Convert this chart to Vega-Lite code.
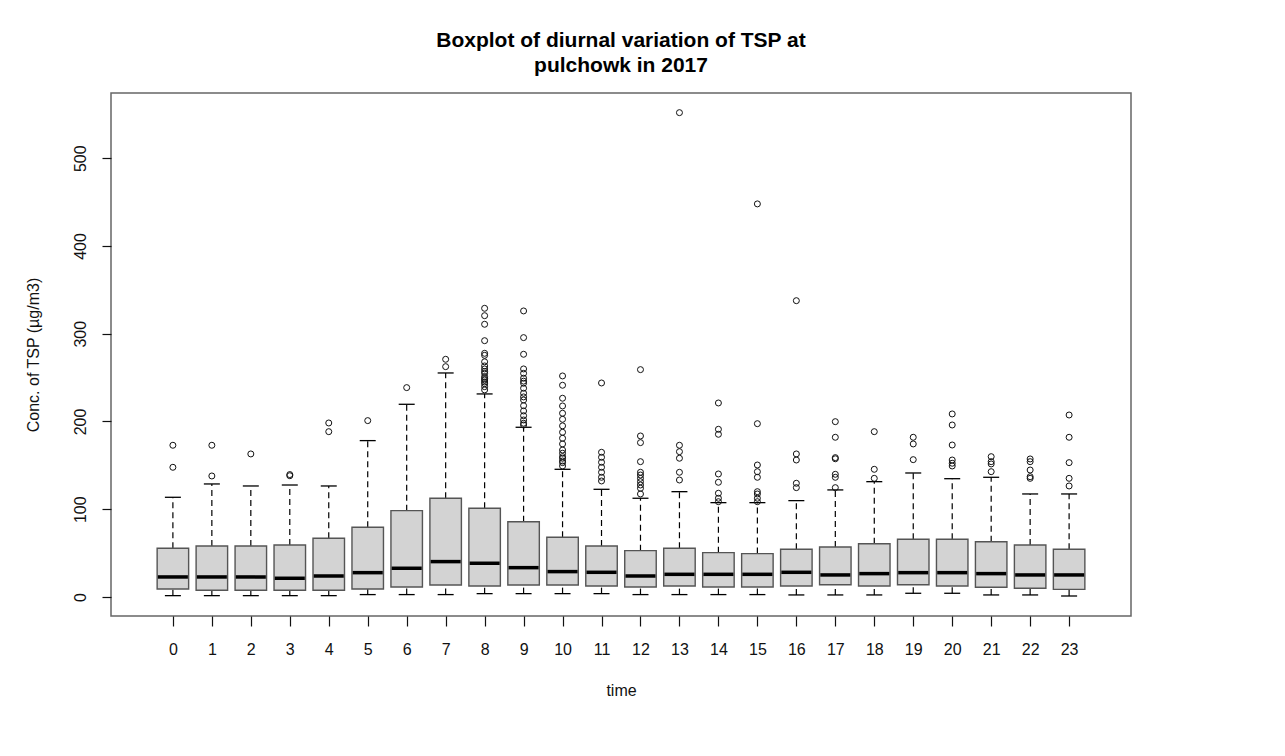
{
  "$schema": "https://vega.github.io/schema/vega-lite/v6.json",
  "autosize": "none",
  "width": 1020,
  "height": 523,
  "padding": {"left": 111, "top": 93, "right": 154, "bottom": 140},
  "background": "white",
  "config": {
    "font": "Liberation Sans",
    "view": {"stroke": "#666666", "strokeWidth": 1.5},
    "axis": {"grid": false, "domain": false, "tickColor": "#111111", "labelColor": "#111111", "titleColor": "#111111", "labelFont": "Liberation Sans", "titleFont": "Liberation Sans", "labelFontSize": 16, "titleFontSize": 16, "titleFontWeight": "normal"}
  },
  "title": {
    "text": ["Boxplot of diurnal variation of TSP at", "pulchowk in 2017"],
    "font": "Liberation Sans",
    "fontSize": 21,
    "fontWeight": "bold",
    "color": "#000000",
    "anchor": "middle",
    "frame": "group",
    "baseline": "alphabetic",
    "lineHeight": 25,
    "offset": 0
  },
  "datasets": {
    "boxes": [
      {"hour": 0, "lo": 1.5, "q1": 9.1, "med": 22.8, "q3": 55.5, "hi": 113.6},
      {"hour": 1, "lo": 1.5, "q1": 7.6, "med": 22.8, "q3": 58.1, "hi": 128.8},
      {"hour": 2, "lo": 1.5, "q1": 7.6, "med": 22.8, "q3": 58.1, "hi": 126.5},
      {"hour": 3, "lo": 1.5, "q1": 7.6, "med": 21.3, "q3": 59.3, "hi": 127.6},
      {"hour": 4, "lo": 1.5, "q1": 7.6, "med": 23.9, "q3": 66.9, "hi": 126.5},
      {"hour": 5, "lo": 2.7, "q1": 9.1, "med": 27.7, "q3": 79.4, "hi": 178.2},
      {"hour": 6, "lo": 2.7, "q1": 11.4, "med": 32.7, "q3": 98.4, "hi": 219.6},
      {"hour": 7, "lo": 2.7, "q1": 13.7, "med": 40.3, "q3": 112.5, "hi": 255.3},
      {"hour": 8, "lo": 3.8, "q1": 12.5, "med": 38.4, "q3": 101.1, "hi": 231.4},
      {"hour": 9, "lo": 3.8, "q1": 13.7, "med": 33.4, "q3": 85.8, "hi": 193.4},
      {"hour": 10, "lo": 3.8, "q1": 13.7, "med": 28.9, "q3": 68.0, "hi": 145.5},
      {"hour": 11, "lo": 3.8, "q1": 12.5, "med": 28.1, "q3": 58.1, "hi": 122.7},
      {"hour": 12, "lo": 2.7, "q1": 11.4, "med": 23.9, "q3": 52.8, "hi": 112.5},
      {"hour": 13, "lo": 2.7, "q1": 12.5, "med": 25.8, "q3": 55.5, "hi": 120.0},
      {"hour": 14, "lo": 2.7, "q1": 11.4, "med": 25.8, "q3": 50.5, "hi": 107.5},
      {"hour": 15, "lo": 2.7, "q1": 11.4, "med": 25.8, "q3": 49.4, "hi": 107.5},
      {"hour": 16, "lo": 2.3, "q1": 12.5, "med": 28.1, "q3": 54.3, "hi": 109.8},
      {"hour": 17, "lo": 2.3, "q1": 14.0, "med": 25.1, "q3": 57.0, "hi": 122.0},
      {"hour": 18, "lo": 2.3, "q1": 12.5, "med": 26.6, "q3": 60.7, "hi": 131.4},
      {"hour": 19, "lo": 4.2, "q1": 14.0, "med": 27.7, "q3": 65.8, "hi": 141.3},
      {"hour": 20, "lo": 4.2, "q1": 12.5, "med": 27.7, "q3": 65.8, "hi": 134.8},
      {"hour": 21, "lo": 2.3, "q1": 11.0, "med": 26.6, "q3": 63.0, "hi": 136.4},
      {"hour": 22, "lo": 2.3, "q1": 9.9, "med": 25.1, "q3": 59.3, "hi": 117.4},
      {"hour": 23, "lo": 1.1, "q1": 8.7, "med": 25.1, "q3": 54.3, "hi": 117.4}
    ],
    "outliers": [
      {"hour": 0, "value": 172.9}, {"hour": 0, "value": 147.8},
      {"hour": 1, "value": 172.9}, {"hour": 1, "value": 137.9},
      {"hour": 2, "value": 163.0},
      {"hour": 3, "value": 139.5}, {"hour": 3, "value": 138.2},
      {"hour": 4, "value": 198.3}, {"hour": 4, "value": 188.4},
      {"hour": 5, "value": 201.0},
      {"hour": 6, "value": 238.6},
      {"hour": 7, "value": 270.9}, {"hour": 7, "value": 262.5},
      {"hour": 8, "value": 329.0}, {"hour": 8, "value": 320.6}, {"hour": 8, "value": 310.8}, {"hour": 8, "value": 292.1}, {"hour": 8, "value": 277.7}, {"hour": 8, "value": 275.4}, {"hour": 8, "value": 268.0}, {"hour": 8, "value": 263.3}, {"hour": 8, "value": 259.9}, {"hour": 8, "value": 257.0}, {"hour": 8, "value": 254.9}, {"hour": 8, "value": 251.1}, {"hour": 8, "value": 249.0}, {"hour": 8, "value": 247.3}, {"hour": 8, "value": 245.0}, {"hour": 8, "value": 243.0}, {"hour": 8, "value": 239.7}, {"hour": 8, "value": 236.0},
      {"hour": 9, "value": 326.0}, {"hour": 9, "value": 295.6}, {"hour": 9, "value": 276.6}, {"hour": 9, "value": 259.9}, {"hour": 9, "value": 254.9}, {"hour": 9, "value": 249.3}, {"hour": 9, "value": 246.0}, {"hour": 9, "value": 243.6}, {"hour": 9, "value": 237.9}, {"hour": 9, "value": 232.2}, {"hour": 9, "value": 228.0}, {"hour": 9, "value": 224.5}, {"hour": 9, "value": 218.0}, {"hour": 9, "value": 212.0}, {"hour": 9, "value": 206.6}, {"hour": 9, "value": 201.7}, {"hour": 9, "value": 198.0}, {"hour": 9, "value": 196.0},
      {"hour": 10, "value": 251.9}, {"hour": 10, "value": 241.3}, {"hour": 10, "value": 226.5}, {"hour": 10, "value": 217.7}, {"hour": 10, "value": 209.4}, {"hour": 10, "value": 202.5}, {"hour": 10, "value": 195.0}, {"hour": 10, "value": 187.7}, {"hour": 10, "value": 180.9}, {"hour": 10, "value": 174.4}, {"hour": 10, "value": 167.5}, {"hour": 10, "value": 163.8}, {"hour": 10, "value": 160.0}, {"hour": 10, "value": 158.1}, {"hour": 10, "value": 155.0}, {"hour": 10, "value": 153.1}, {"hour": 10, "value": 149.3},
      {"hour": 11, "value": 243.9}, {"hour": 11, "value": 164.9}, {"hour": 11, "value": 159.2}, {"hour": 11, "value": 153.5}, {"hour": 11, "value": 147.8}, {"hour": 11, "value": 142.1}, {"hour": 11, "value": 136.4}, {"hour": 11, "value": 132.2},
      {"hour": 12, "value": 259.1}, {"hour": 12, "value": 183.5}, {"hour": 12, "value": 175.9}, {"hour": 12, "value": 154.2}, {"hour": 12, "value": 142.1}, {"hour": 12, "value": 139.0}, {"hour": 12, "value": 135.2}, {"hour": 12, "value": 131.4}, {"hour": 12, "value": 127.6}, {"hour": 12, "value": 123.9}, {"hour": 12, "value": 117.4},
      {"hour": 13, "value": 552.0}, {"hour": 13, "value": 172.9}, {"hour": 13, "value": 165.6}, {"hour": 13, "value": 158.1}, {"hour": 13, "value": 142.1}, {"hour": 13, "value": 133.3},
      {"hour": 14, "value": 221.1}, {"hour": 14, "value": 191.1}, {"hour": 14, "value": 185.4}, {"hour": 14, "value": 140.2}, {"hour": 14, "value": 130.7}, {"hour": 14, "value": 118.2}, {"hour": 14, "value": 112.5}, {"hour": 14, "value": 108.6},
      {"hour": 15, "value": 448.0}, {"hour": 15, "value": 197.5}, {"hour": 15, "value": 150.4}, {"hour": 15, "value": 142.8}, {"hour": 15, "value": 136.4}, {"hour": 15, "value": 120.0}, {"hour": 15, "value": 117.4}, {"hour": 15, "value": 112.5}, {"hour": 15, "value": 108.6},
      {"hour": 16, "value": 337.7}, {"hour": 16, "value": 163.0}, {"hour": 16, "value": 156.1}, {"hour": 16, "value": 129.6}, {"hour": 16, "value": 124.6},
      {"hour": 17, "value": 199.8}, {"hour": 17, "value": 182.0}, {"hour": 17, "value": 158.8}, {"hour": 17, "value": 157.5}, {"hour": 17, "value": 139.8}, {"hour": 17, "value": 136.4}, {"hour": 17, "value": 124.6},
      {"hour": 18, "value": 188.4}, {"hour": 18, "value": 145.5}, {"hour": 18, "value": 135.2},
      {"hour": 19, "value": 182.0}, {"hour": 19, "value": 174.4}, {"hour": 19, "value": 156.5},
      {"hour": 20, "value": 208.6}, {"hour": 20, "value": 196.0}, {"hour": 20, "value": 173.2}, {"hour": 20, "value": 156.1}, {"hour": 20, "value": 152.4}, {"hour": 20, "value": 149.3},
      {"hour": 21, "value": 159.9}, {"hour": 21, "value": 154.2}, {"hour": 21, "value": 151.6}, {"hour": 21, "value": 142.8},
      {"hour": 22, "value": 157.3}, {"hour": 22, "value": 154.2}, {"hour": 22, "value": 144.7}, {"hour": 22, "value": 137.1}, {"hour": 22, "value": 135.2},
      {"hour": 23, "value": 207.4}, {"hour": 23, "value": 182.0}, {"hour": 23, "value": 153.1}, {"hour": 23, "value": 135.2}, {"hour": 23, "value": 126.5}
    ]
  },
  "layer": [
    {
      "data": {"name": "boxes"},
      "mark": {"type": "rule", "color": "#000000", "strokeWidth": 1.2, "strokeDash": [6, 4]},
      "encoding": {
        "x": {"field": "hour", "type": "quantitative", "scale": {"domain": [-1.46, 24.46], "nice": false, "zero": false},
          "axis": {"title": "time", "values": [0,1,2,3,4,5,6,7,8,9,10,11,12,13,14,15,16,17,18,19,20,21,22,23], "format": "d", "labelOverlap": false, "labelFlush": false, "tickSize": 10, "tickWidth": 1.2, "labelBaseline": "alphabetic", "labelPadding": 28, "titleBaseline": "alphabetic", "titleY": 79, "titlePadding": 0}},
        "y": {"field": "lo", "type": "quantitative", "scale": {"domain": [-21.7, 574.4], "nice": false, "zero": false},
          "axis": {"title": "Conc. of TSP (µg/m3)", "values": [0, 100, 200, 300, 400, 500], "labelAngle": 270, "labelAlign": "center", "labelBaseline": "alphabetic", "labelPadding": 16.5, "tickSize": 9, "tickWidth": 1.2, "titleAngle": 270, "titleBaseline": "alphabetic", "titleX": -73, "titlePadding": 0}},
        "y2": {"field": "q1"}
      }
    },
    {
      "data": {"name": "boxes"},
      "mark": {"type": "rule", "color": "#000000", "strokeWidth": 1.2, "strokeDash": [6, 4]},
      "encoding": {
        "x": {"field": "hour", "type": "quantitative"},
        "y": {"field": "q3", "type": "quantitative"},
        "y2": {"field": "hi"}
      }
    },
    {
      "data": {"name": "boxes"},
      "mark": {"type": "tick", "orient": "horizontal", "color": "#000000", "opacity": 1, "size": 16, "thickness": 1.3},
      "encoding": {
        "x": {"field": "hour", "type": "quantitative"},
        "y": {"field": "lo", "type": "quantitative"}
      }
    },
    {
      "data": {"name": "boxes"},
      "mark": {"type": "tick", "orient": "horizontal", "color": "#000000", "opacity": 1, "size": 16, "thickness": 1.3},
      "encoding": {
        "x": {"field": "hour", "type": "quantitative"},
        "y": {"field": "hi", "type": "quantitative"}
      }
    },
    {
      "data": {"name": "boxes"},
      "mark": {"type": "bar", "size": 31.5, "fill": "#d3d3d3", "stroke": "#555555", "strokeWidth": 1.4, "opacity": 1},
      "encoding": {
        "x": {"field": "hour", "type": "quantitative"},
        "y": {"field": "q1", "type": "quantitative"},
        "y2": {"field": "q3"}
      }
    },
    {
      "data": {"name": "boxes"},
      "mark": {"type": "tick", "orient": "horizontal", "color": "#000000", "opacity": 1, "size": 30, "thickness": 3.5},
      "encoding": {
        "x": {"field": "hour", "type": "quantitative"},
        "y": {"field": "med", "type": "quantitative"}
      }
    },
    {
      "data": {"name": "outliers"},
      "mark": {"type": "point", "shape": "circle", "filled": false, "color": "#111111", "opacity": 1, "size": 36, "strokeWidth": 1},
      "encoding": {
        "x": {"field": "hour", "type": "quantitative"},
        "y": {"field": "value", "type": "quantitative"}
      }
    }
  ]
}
